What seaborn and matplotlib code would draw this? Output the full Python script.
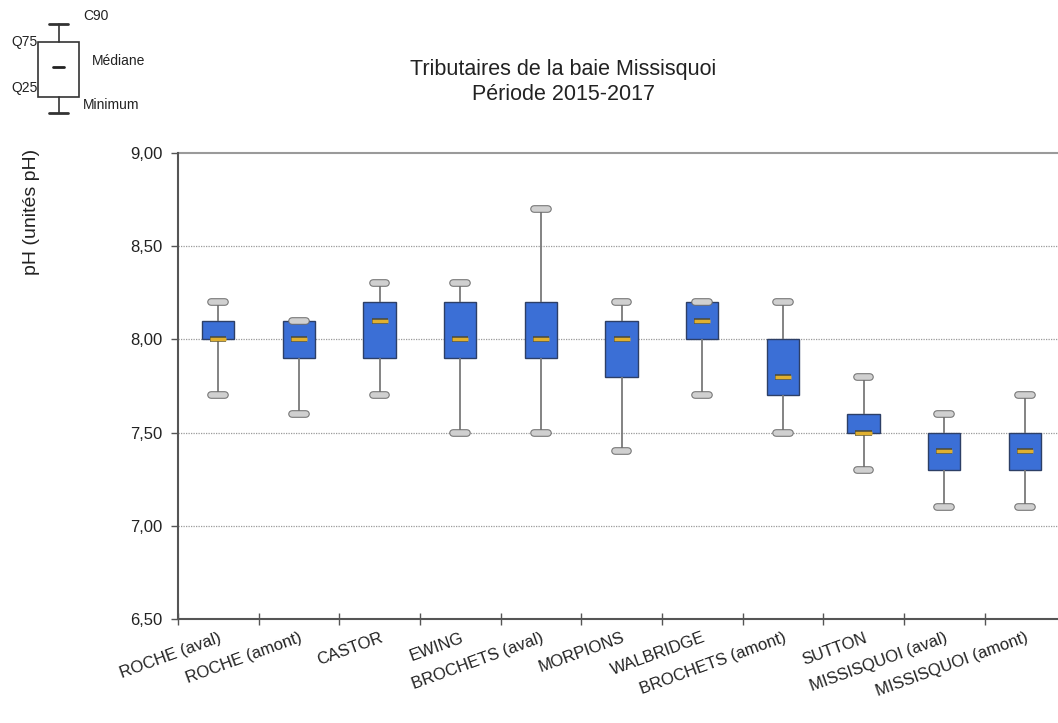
import numpy as np
import pandas as pd
import matplotlib
matplotlib.use("Agg")
import matplotlib.pyplot as plt
import matplotlib.patheffects as pe
from matplotlib.patches import Rectangle
from matplotlib.ticker import FixedLocator, FuncFormatter
import seaborn as sns

# Station names (x axis)
stations = ["ROCHE (aval)", "ROCHE (amont)", "CASTOR", "EWING", "BROCHETS (aval)",
            "MORPIONS", "WALBRIDGE", "BROCHETS (amont)", "SUTTON",
            "MISSISQUOI (aval)", "MISSISQUOI (amont)"]

# Box statistics (pH units)
ph_min = [7.70, 7.60, 7.70, 7.50, 7.50, 7.40, 7.70, 7.50, 7.30, 7.10, 7.10]
ph_q25 = [8.00, 7.90, 7.90, 7.90, 7.90, 7.80, 8.00, 7.70, 7.50, 7.30, 7.30]
ph_med = [8.00, 8.00, 8.10, 8.00, 8.00, 8.00, 8.10, 7.80, 7.50, 7.40, 7.40]
ph_q75 = [8.10, 8.10, 8.20, 8.20, 8.20, 8.10, 8.20, 8.00, 7.60, 7.50, 7.50]
ph_c90 = [8.20, 8.10, 8.30, 8.30, 8.70, 8.20, 8.20, 8.20, 7.80, 7.60, 7.70]

y_ticks = [6.5, 7.0, 7.5, 8.0, 8.5, 9.0]

# long table: five values per station -> seaborn gives exact quartiles,
# whiskers at min / max (= C90)
rows = []
for i, s in enumerate(stations):
    for v in (ph_min[i], ph_q25[i], ph_med[i], ph_q75[i], ph_c90[i]):
        rows.append({"station": s, "ph": v})
df = pd.DataFrame(rows)

sns.set_theme(style="white")
plt.rcParams["font.family"] = ["Liberation Sans", "DejaVu Sans"]

W, H = 1058, 723
fig = plt.figure(figsize=(W / 100, H / 100), dpi=100)
ax = fig.add_axes([178 / W, 1 - 619 / H, (1058 - 178) / W, (619 - 153) / H])

box_col = "#3b6fd6"
sns.boxplot(data=df, x="station", y="ph", order=stations, whis=(0, 100),
            width=0.4, color=box_col, saturation=1, linecolor="#333333",
            linewidth=1.0, showfliers=False, ax=ax,
            boxprops=dict(facecolor=box_col, edgecolor="#2d3f66"),
            whiskerprops=dict(color="#7a7a7a", linewidth=1.3),
            capprops=dict(color="#d0d0d0", linewidth=4, solid_capstyle="round",
                          path_effects=[pe.Stroke(linewidth=5.5, foreground="#707070"),
                                        pe.Normal()]),
            medianprops=dict(color="#e0b030", linewidth=2.5,
                             path_effects=[pe.Stroke(linewidth=4, foreground="#4a4a3a"),
                                           pe.Normal()]))

# shorten median lines to half the box width, caps a bit narrower
n = len(stations)
for line in ax.lines:
    xd = np.asarray(line.get_xdata(), dtype=float)
    yd = np.asarray(line.get_ydata(), dtype=float)
    if len(xd) == 2 and yd[0] == yd[1] and abs((xd[1] - xd[0]) - 0.4) < 1e-6:
        c = xd.mean()
        line.set_xdata([c - 0.1, c + 0.1])
    if len(xd) == 2 and yd[0] == yd[1] and abs((xd[1] - xd[0]) - 0.2) < 1e-6:
        c = xd.mean()
        line.set_xdata([c - 0.085, c + 0.085])

ax.set_xlim(-0.5, -0.5 + (1058 - 178) / 80.65)
ax.set_ylim(6.5, 9.0)
ax.yaxis.set_major_locator(FixedLocator(y_ticks))
ax.yaxis.set_major_formatter(FuncFormatter(lambda v, p: f"{v:.2f}".replace(".", ",")))

for yv in y_ticks[1:-1]:
    ax.axhline(yv, color="#9a9a9a", linewidth=0.9, linestyle=(0, (1, 1)), zorder=0)
ax.axhline(9.0, color="#9a9a9a", linewidth=1.5, zorder=0, clip_on=False)

# category boundaries as ticks, labels at box centres
ax.set_xticks(np.arange(n))
ax.set_xticklabels(stations, rotation=20, ha="right", rotation_mode="anchor",
                   fontsize=12, color="#222222")
ax.tick_params(axis="x", which="major", length=0, pad=8, bottom=True)
ax.set_xticks(np.arange(-0.5, n - 0.5, 1), minor=True)
ax.tick_params(axis="x", which="minor", direction="inout", length=9,
               width=1, color="#555555", bottom=True)
ax.tick_params(axis="y", direction="out", length=5, width=1, color="#555555",
               labelsize=12, labelcolor="#222222", left=True, pad=6)

for side in ("top", "right"):
    ax.spines[side].set_visible(False)
for side in ("left", "bottom"):
    ax.spines[side].set_color("#555555")
    ax.spines[side].set_linewidth(1.5)
ax.set_xlabel("")
ax.set_ylabel("")

fig.text(563 / W, 1 - 82 / H, "Tributaires de la baie Missisquoi\nPériode 2015-2017",
         ha="center", va="center", fontsize=15.5, color="#222222", linespacing=1.25)
fig.text(32 / W, 1 - 212 / H, "pH (unités pH)", rotation=90, ha="center",
         va="center", fontsize=14, color="#222222")

# legend sketch in the top left corner (pixel coords)
lg = fig.add_axes([0, 0, 1, 1], facecolor="none")
lg.set_xlim(0, W)
lg.set_ylim(H, 0)
lg.axis("off")
lg.add_patch(Rectangle((38, 42), 41, 55, facecolor="white", edgecolor="#333333", lw=1.2))
lg.plot([58.5, 58.5], [24, 42], color="#333333", lw=1.2)
lg.plot([58.5, 58.5], [97, 113], color="#333333", lw=1.2)
lg.plot([49, 68], [24, 24], color="#333333", lw=2)
lg.plot([49, 68], [113, 113], color="#333333", lw=2)
lg.plot([53, 64], [67, 67], color="#222222", lw=2)
lg.text(83, 16, "C90", fontsize=10, va="center", color="#222222")
lg.text(38, 42, "Q75", fontsize=10, va="center", ha="right", color="#222222")
lg.text(38, 88, "Q25", fontsize=10, va="center", ha="right", color="#222222")
lg.text(92, 61, "Médiane", fontsize=10, va="center", color="#222222")
lg.text(83, 105, "Minimum", fontsize=10, va="center", color="#222222")

fig.savefig("out.png", dpi=100)
